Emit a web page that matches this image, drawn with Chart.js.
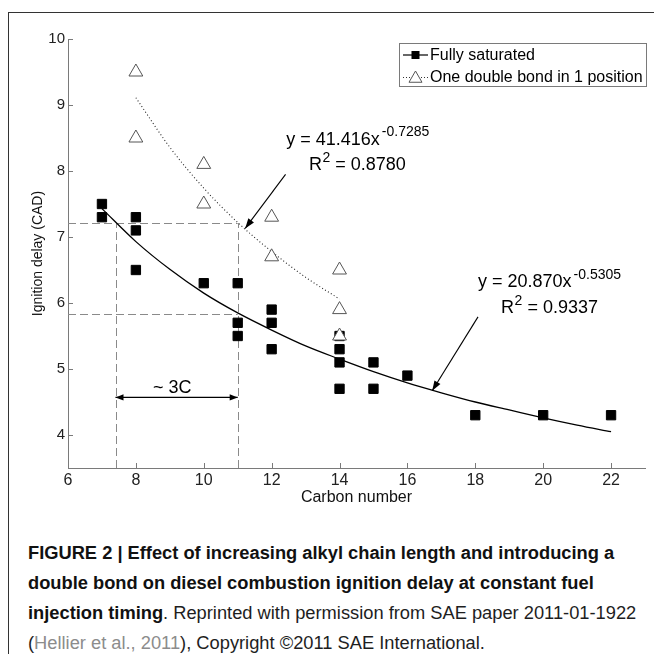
<!DOCTYPE html>
<html><head><meta charset="utf-8">
<script src="https://cdn.jsdelivr.net/npm/chart.js@4"></script>
<style>
html,body{margin:0;padding:0;background:#fff;}
body{width:654px;height:654px;overflow:hidden;position:relative;font-family:'Liberation Sans',Arial,sans-serif;}
#frame{position:absolute;left:8px;top:12px;width:700px;height:700px;border-left:1px solid #333;border-top:1px solid #333;}
#wrap{position:absolute;left:0;top:0;width:654px;height:530px;}
#cap{position:absolute;left:28px;top:538px;font-size:18.3px;line-height:30px;color:#1e1e1e;white-space:nowrap;}
#cap b{font-weight:bold;color:#111;}
#cap .ref{color:#8c8c8c;}
</style></head><body>
<div id="frame"></div>
<div id="wrap"><canvas id="c" width="654" height="530"></canvas></div>
<div id="cap"><b>FIGURE 2 | Effect of increasing alkyl chain length and introducing a</b><br><b>double bond on diesel combustion ignition delay at constant fuel</b><br><b>injection timing</b>. Reprinted with permission from SAE paper 2011-01-1922<br>(<span class="ref">Hellier et al., 2011</span>), Copyright ©2011 SAE International.</div>
<script>
// ---- data ----
const seriesNames = ['Fully saturated', 'One double bond in 1 position'];
const satX = [7, 7, 8, 8, 8, 10, 11, 11, 11, 12, 12, 12, 14, 14, 14, 14, 15, 15, 16, 18, 20, 22];
const satY = [7.5, 7.3, 7.3, 7.1, 6.5, 6.3, 6.3, 5.7, 5.5, 5.9, 5.7, 5.3, 5.5, 5.3, 5.1, 4.7, 5.1, 4.7, 4.9, 4.3, 4.3, 4.3];
const dblX = [8, 8, 10, 10, 12, 12, 14, 14, 14];
const dblY = [9.5, 8.5, 8.1, 7.5, 7.3, 6.7, 6.5, 5.9, 5.5];
// trend curves
const satFitX = [7, 8, 9, 10, 11, 12, 13, 14, 15, 16, 17, 18, 19, 20, 21, 22];
const satFitY = [7.43, 6.93, 6.51, 6.15, 5.85, 5.59, 5.35, 5.15, 4.96, 4.79, 4.64, 4.50, 4.38, 4.26, 4.15, 4.05];
const dblFitX = [8, 9, 10, 11, 12, 13, 14];
const dblFitY = [9.11, 8.36, 7.74, 7.22, 6.78, 6.39, 6.06];
const xTicks = [6, 8, 10, 12, 14, 16, 18, 20, 22];
const yTicks = [4, 5, 6, 7, 8, 9, 10];
const xTitle = 'Carbon number';
const yTitle = 'Ignition delay (CAD)';
const dblEq = ['y = 41.416x', '-0.7285', 'R', '2', ' = 0.8780'];
const satEq = ['y = 20.870x', '-0.5305', 'R', '2', ' = 0.9337'];
const spanLabel = '~ 3C';
// annotation anchors in data units
const refHoriz = [[6, 11, 7.21], [6, 11, 5.84]];
const refVert = [[7.4, 3.5, 7.21], [11, 3.5, 7.21]];
const spanArrow = [7.4, 11, 4.57];
const spanText = [9.07, 4.63];
const dblArrow = [12.41, 7.95, 11.22, 7.13];
const satArrow = [18.08, 5.79, 16.73, 4.67];
const dblEqPos = [12.43, 8.40, 13.10, 8.02];
const satEqPos = [18.08, 6.24, 18.76, 5.85];

const FONT = "'Liberation Sans', Arial, sans-serif";

function arrowHead(ctx, x1, y1, x2, y2, len, hw) {
  const a = Math.atan2(y2 - y1, x2 - x1);
  ctx.beginPath();
  ctx.moveTo(x2, y2);
  ctx.lineTo(x2 - len * Math.cos(a) + hw * Math.sin(a), y2 - len * Math.sin(a) - hw * Math.cos(a));
  ctx.lineTo(x2 - len * Math.cos(a) - hw * Math.sin(a), y2 - len * Math.sin(a) + hw * Math.cos(a));
  ctx.closePath();
  ctx.fill();
}

const refPlugin = {
  id: 'refLines',
  beforeDatasetsDraw(chart) {
    const {ctx, scales: {x, y}} = chart;
    ctx.save();
    ctx.strokeStyle = '#8a8a8a';
    ctx.lineWidth = 1;
    ctx.setLineDash([8, 4]);
    refHoriz.forEach(([a, b, v]) => {
      const py = Math.round(y.getPixelForValue(v)) + 0.5;
      ctx.beginPath(); ctx.moveTo(x.getPixelForValue(a), py); ctx.lineTo(x.getPixelForValue(b), py); ctx.stroke();
    });
    refVert.forEach(([v, a, b]) => {
      const px = Math.round(x.getPixelForValue(v)) + 0.5;
      ctx.beginPath(); ctx.moveTo(px, y.getPixelForValue(a)); ctx.lineTo(px, y.getPixelForValue(b)); ctx.stroke();
    });
    ctx.restore();
  }
};

const annPlugin = {
  id: 'annot',
  afterDatasetsDraw(chart) {
    const {ctx, scales: {x, y}} = chart;
    ctx.save();
    ctx.strokeStyle = '#000'; ctx.fillStyle = '#000'; ctx.lineWidth = 1.1;
    const sy = y.getPixelForValue(spanArrow[2]);
    const sx1 = x.getPixelForValue(spanArrow[0]), sx2 = x.getPixelForValue(spanArrow[1]);
    ctx.beginPath(); ctx.moveTo(sx1, sy); ctx.lineTo(sx2, sy); ctx.stroke();
    arrowHead(ctx, sx2, sy, sx1, sy, 8, 3.2);
    arrowHead(ctx, sx1, sy, sx2, sy, 8, 3.2);
    [dblArrow, satArrow].forEach(([a, b, c, d]) => {
      const x1 = x.getPixelForValue(a), y1 = y.getPixelForValue(b), x2 = x.getPixelForValue(c), y2 = y.getPixelForValue(d);
      ctx.beginPath(); ctx.moveTo(x1, y1); ctx.lineTo(x2, y2); ctx.stroke();
      arrowHead(ctx, x1, y1, x2, y2, 10, 3.5);
    });
    ctx.textBaseline = 'alphabetic';
    ctx.textAlign = 'left';
    ctx.font = '18px ' + FONT;
    ctx.fillText(spanLabel, x.getPixelForValue(spanText[0]) - ctx.measureText(spanLabel).width / 2, y.getPixelForValue(spanText[1]));
    [[dblEq, dblEqPos], [satEq, satEqPos]].forEach(([eq, p]) => {
      let px = x.getPixelForValue(p[0]), py = y.getPixelForValue(p[1]);
      ctx.font = '18px ' + FONT;
      ctx.fillText(eq[0], px, py);
      px += ctx.measureText(eq[0]).width + 2;
      ctx.font = '14px ' + FONT;
      ctx.fillText(eq[1], px, py - 8.5);
      px = x.getPixelForValue(p[2]); py = y.getPixelForValue(p[3]);
      ctx.font = '18px ' + FONT;
      ctx.fillText(eq[2], px, py);
      px += ctx.measureText(eq[2]).width + 0.5;
      ctx.font = '14px ' + FONT;
      ctx.fillText(eq[3], px, py - 8);
      px += ctx.measureText(eq[3]).width;
      ctx.font = '18px ' + FONT;
      ctx.fillText(eq[4], px, py);
    });
    ctx.restore();
  }
};

const tickPlugin = {
  id: 'inTicks',
  afterDraw(chart) {
    const {ctx, chartArea: a, scales: {x, y}} = chart;
    ctx.save();
    ctx.strokeStyle = '#7a7a7a'; ctx.lineWidth = 1;
    ctx.beginPath();
    x.ticks.forEach(t => { const px = Math.round(x.getPixelForValue(t.value)) + 0.5; ctx.moveTo(px, a.bottom); ctx.lineTo(px, a.bottom - 5); });
    y.ticks.forEach(t => { const py = Math.round(y.getPixelForValue(t.value)) + 0.5; ctx.moveTo(a.left, py); ctx.lineTo(a.left + 5, py); });
    ctx.stroke();
    ctx.restore();
  }
};

const legendPlugin = {
  id: 'mlLegend',
  afterDraw(chart) {
    const ctx = chart.ctx, ds = chart.data.datasets;
    ctx.save();
    const bx = 399.5, by = 43.5, bw = 247, bh = 43;
    ctx.fillStyle = '#fff'; ctx.fillRect(bx, by, bw, bh);
    ctx.strokeStyle = '#7a7a7a'; ctx.lineWidth = 1; ctx.strokeRect(bx, by, bw, bh);
    const rows = [55, 77.5];
    ctx.font = '16px ' + FONT; ctx.textBaseline = 'middle'; ctx.textAlign = 'left';
    ctx.strokeStyle = '#000'; ctx.lineWidth = 1.2;
    ctx.beginPath(); ctx.moveTo(403, rows[0]); ctx.lineTo(428, rows[0]); ctx.stroke();
    ctx.fillStyle = '#000'; ctx.fillRect(411.5, rows[0] - 4, 8, 8);
    ctx.fillText(ds[0].label, 430, rows[0] + 0.5);
    ctx.strokeStyle = '#333'; ctx.lineWidth = 1; ctx.setLineDash([1, 2]);
    ctx.beginPath(); ctx.moveTo(403, rows[1]); ctx.lineTo(428, rows[1]); ctx.stroke();
    ctx.setLineDash([]);
    const r = 7.5, cx = 415.5, cy = rows[1] + 1;
    ctx.beginPath();
    ctx.moveTo(cx, cy - r); ctx.lineTo(cx + 0.866 * r, cy + 0.5 * r); ctx.lineTo(cx - 0.866 * r, cy + 0.5 * r); ctx.closePath();
    ctx.fillStyle = '#fff'; ctx.fill(); ctx.strokeStyle = '#555'; ctx.stroke();
    ctx.fillStyle = '#000';
    ctx.fillText(ds[1].label, 430, rows[1] + 0.5);
    ctx.restore();
  }
};

const pts = (xs, ys) => xs.map((v, i) => ({x: v, y: ys[i]}));

new Chart(document.getElementById('c'), {
  type: 'scatter',
  data: {
    datasets: [
      {label: seriesNames[0], data: pts(satX, satY), pointStyle: 'rect', pointRadius: 6.6, pointHoverRadius: 6.6,
       backgroundColor: '#000', borderColor: '#000', borderWidth: 1, order: 2},
      {label: seriesNames[1], data: pts(dblX, dblY), pointStyle: 'triangle', pointRadius: 8, pointHoverRadius: 8,
       backgroundColor: '#fff', borderColor: '#555', borderWidth: 1, order: 1},
      {label: 'fit1', type: 'line', data: pts(satFitX, satFitY), showLine: true, pointRadius: 0, borderColor: '#000',
       borderWidth: 1.3, cubicInterpolationMode: 'monotone', fill: false, order: 3},
      {label: 'fit2', type: 'line', data: pts(dblFitX, dblFitY), showLine: true, pointRadius: 0, borderColor: '#222',
       borderWidth: 1.1, borderDash: [1, 2.4], cubicInterpolationMode: 'monotone', fill: false, order: 4}
    ]
  },
  options: {
    responsive: false, animation: false,
    layout: {padding: {left: 0, top: 39, right: 6, bottom: 0}},
    plugins: {legend: {display: false}, tooltip: {enabled: false}},
    scales: {
      x: {type: 'linear', min: 6, max: 23,
        afterFit(s) { s.height = 62; },
        afterBuildTicks(s) { s.ticks = xTicks.map(v => ({value: v})); },
        ticks: {font: {size: 16, family: FONT}, color: '#222', padding: 3, maxRotation: 0, autoSkip: false},
        grid: {display: false, drawTicks: false},
        border: {display: true, color: '#7a7a7a', width: 1},
        title: {display: true, text: xTitle, font: {size: 16, family: FONT}, color: '#111', padding: {top: 0, bottom: 23}}
      },
      y: {type: 'linear', min: 3.5, max: 10,
        afterFit(s) { s.width = 68; },
        afterBuildTicks(s) { s.ticks = yTicks.map(v => ({value: v})); },
        ticks: {font: {size: 15, family: FONT}, color: '#222', padding: 3, autoSkip: false},
        grid: {display: false, drawTicks: false},
        border: {display: true, color: '#7a7a7a', width: 1},
        title: {display: true, text: yTitle, font: {size: 14, family: FONT}, color: '#111', padding: {top: 30, bottom: 0}}
      }
    }
  },
  plugins: [refPlugin, annPlugin, tickPlugin, legendPlugin]
});
</script>
</body></html>
